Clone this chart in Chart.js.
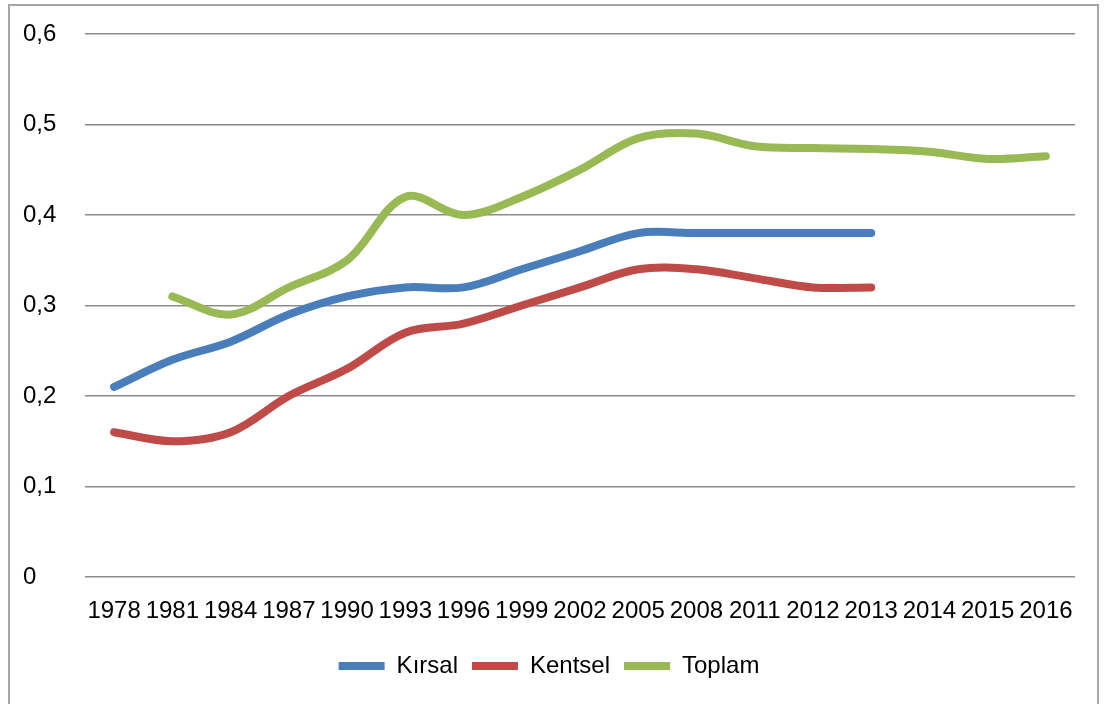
<!DOCTYPE html>
<html>
<head>
<meta charset="utf-8">
<script src="https://cdn.jsdelivr.net/npm/chart.js@4"></script>
<style>
  body { margin: 0; background: #fff; }
  #wrap { position: relative; width: 1105px; height: 704px; overflow: hidden; }
  #frame { position: absolute; left: 8px; top: 4px; width: 1087px; height: 720px; border: 2px solid #a6a6a6; }
  canvas { position: absolute; left: 0; top: 0; }
</style>
</head>
<body>
<div id="wrap">
  <div id="frame"></div>
  <canvas id="chart" width="1105" height="704"></canvas>
</div>
<script>
const years = ['1978', '1981', '1984', '1987', '1990', '1993', '1996', '1999', '2002', '2005', '2008', '2011', '2012', '2013', '2014', '2015', '2016'];
const kirsal = [0.21, 0.24, 0.26, 0.29, 0.31, 0.32, 0.32, 0.34, 0.36, 0.38, 0.38, 0.38, 0.38, 0.38, null, null, null];
const kentsel = [0.16, 0.15, 0.16, 0.20, 0.23, 0.27, 0.28, 0.30, 0.32, 0.34, 0.34, 0.33, 0.32, 0.32, null, null, null];
const toplam = [null, 0.31, 0.29, 0.32, 0.35, 0.42, 0.40, 0.42, 0.45, 0.485, 0.49, 0.476, 0.474, 0.473, 0.47, 0.462, 0.465];

const font = { family: 'Liberation Sans', size: 24 };

function series(label, data, color) {
    return {
        label: label,
        data: data,
        borderColor: color,
        backgroundColor: color,
        borderWidth: 8,
        borderCapStyle: 'round',
        pointRadius: 0,
        pointStyle: 'line',
        tension: 0.35,
        spanGaps: false
    };
}

new Chart(document.getElementById('chart').getContext('2d'), {
    type: 'line',
    data: {
        labels: years,
        datasets: [
            series('Kırsal', kirsal, '#4a7ebb'),
            series('Kentsel', kentsel, '#be4b48'),
            series('Toplam', toplam, '#98b954')
        ]
    },
    options: {
        responsive: false,
        animation: false,
        layout: { padding: { left: 23, right: 30, top: 34, bottom: 16 } },
        plugins: {
            tooltip: { enabled: false },
            legend: {
                position: 'bottom',
                labels: {
                    font: font,
                    color: '#000',
                    usePointStyle: true,
                    pointStyleWidth: 46,
                    boxHeight: 8,
                    padding: 14
                }
            }
        },
        scales: {
            x: {
                offset: true,
                grid: { display: false },
                border: { display: false },
                ticks: { font: font, color: '#000', maxRotation: 0, autoSkip: false, padding: 12 },
                afterFit: function (scale) { scale.height = 63; }
            },
            y: {
                min: 0,
                max: 0.6,
                grid: { color: '#8c8c8c', lineWidth: 1.5, drawTicks: false },
                border: { display: false },
                ticks: {
                    stepSize: 0.1,
                    font: font,
                    color: '#000',
                    crossAlign: 'far',
                    padding: 10,
                    callback: function (v) { return Number(v.toFixed(1)).toString().replace('.', ','); }
                },
                afterFit: function (scale) { scale.width = 62; }
            }
        }
    }
});
</script>
</body>
</html>
